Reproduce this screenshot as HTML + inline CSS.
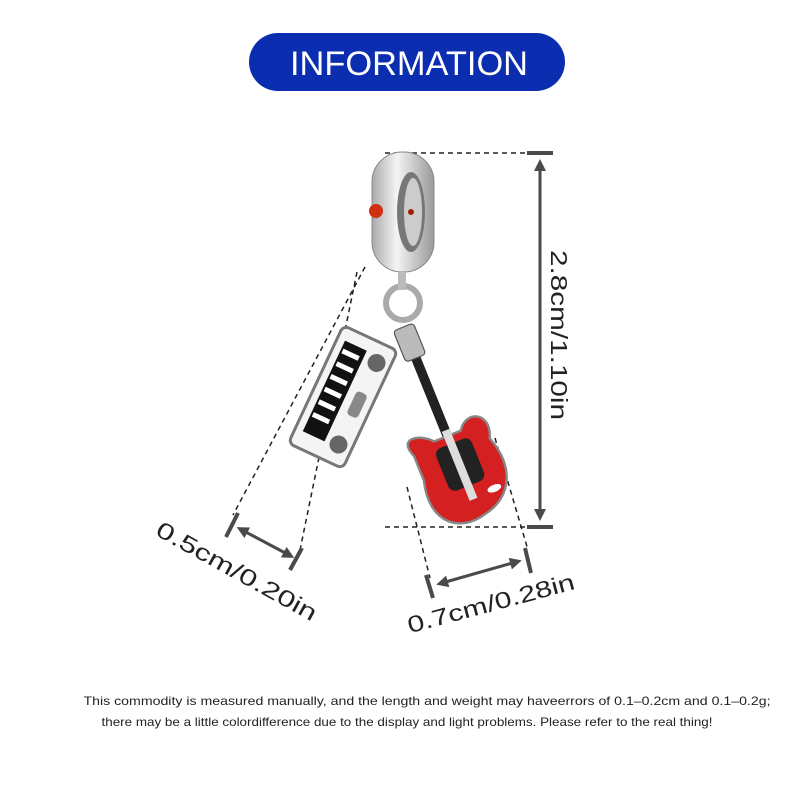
<!DOCTYPE html>
<html><head><style>
body{margin:0;width:800px;height:800px;background:#fff;overflow:hidden;font-family:"Liberation Sans",sans-serif}
</style></head><body>
<svg width="800" height="800" viewBox="0 0 800 800" xmlns="http://www.w3.org/2000/svg" style="position:absolute;left:0;top:0">
<defs>
<marker id="ah" markerWidth="4" markerHeight="4" refX="2" refY="2" orient="auto-start-reverse" markerUnits="strokeWidth"><path d="M0,0 L4,2 L0,4 z" fill="#4a4a4a"/></marker>
<linearGradient id="sil" x1="0" x2="1"><stop offset="0" stop-color="#aaa"/><stop offset=".4" stop-color="#f4f4f4"/><stop offset="1" stop-color="#999"/></linearGradient>
</defs>
<rect x="249" y="33" width="316" height="58" rx="29" fill="#0b2eb0"/>
<text x="409" y="75" text-anchor="middle" font-size="34" fill="#fff" textLength="238" lengthAdjust="spacingAndGlyphs">INFORMATION</text>
<g stroke="#222" stroke-width="1.5" stroke-dasharray="5,4" fill="none">
<line x1="385" y1="153" x2="525" y2="153"/><line x1="385" y1="527" x2="525" y2="527"/>
<line x1="365" y1="267" x2="233" y2="515"/><line x1="357" y1="272" x2="300" y2="550"/>
<line x1="407" y1="487" x2="430" y2="578"/><line x1="495" y1="438" x2="528" y2="550"/>
</g>
<!-- bail -->
<rect x="372" y="152" width="62" height="120" rx="30" fill="url(#sil)" stroke="#888"/>
<ellipse cx="411" cy="212" rx="14" ry="40" fill="#777"/><ellipse cx="413" cy="212" rx="9" ry="34" fill="#ccc"/>
<circle cx="376" cy="211" r="7" fill="#d03010"/><circle cx="411" cy="212" r="3" fill="#a02000"/>
<circle cx="403" cy="303" r="17" fill="none" stroke="#aaa" stroke-width="6"/>
<rect x="398" y="272" width="8" height="18" fill="#bbb"/>
<!-- keyboard -->
<g transform="translate(343,397) rotate(25)">
<rect x="-30" y="-65" width="60" height="130" rx="6" fill="#f4f4f4" stroke="#777" stroke-width="3"/>
<rect x="-22" y="-52" width="24" height="100" fill="#111"/>
<g fill="#fff"><rect x="-20" y="-44" width="18" height="5"/><rect x="-20" y="-30" width="18" height="5"/><rect x="-20" y="-16" width="18" height="5"/><rect x="-20" y="-2" width="18" height="5"/><rect x="-20" y="12" width="18" height="5"/><rect x="-20" y="26" width="18" height="5"/></g>
<circle cx="16" cy="-45" r="9" fill="#666"/><circle cx="16" cy="45" r="9" fill="#666"/>
<rect x="10" y="-12" width="12" height="26" rx="4" fill="#888"/>
</g>
<!-- guitar -->
<g transform="translate(455,455) rotate(-22) scale(1.2)">
<rect x="-4" y="-95" width="8" height="100" fill="#222"/>
<rect x="-9" y="-115" width="18" height="28" rx="3" fill="#bbb" stroke="#555"/>
<path d="M-32,-12 C-40,-32 -20,-27 -12,-17 L12,-17 C22,-32 42,-22 32,-2 C42,25 32,50 5,55 C-20,62 -42,45 -32,10 Z" fill="#d42020" stroke="#888" stroke-width="2"/>
<rect x="-15" y="-10" width="32" height="38" rx="6" fill="#222"/>
<rect x="-3" y="-22" width="7" height="62" fill="#ddd"/>
<ellipse cx="20" cy="38" rx="6" ry="3" fill="#fff"/>
</g>
<g stroke="#4a4a4a" stroke-width="4">
<line x1="527" y1="153" x2="553" y2="153"/><line x1="527" y1="527" x2="553" y2="527"/>
<line x1="540" y1="165" x2="540" y2="515" marker-start="url(#ah)" marker-end="url(#ah)" stroke-width="3"/>
<line x1="238" y1="513" x2="226" y2="537"/><line x1="302" y1="548" x2="290" y2="570"/>
<line x1="242" y1="530" x2="289" y2="555" marker-start="url(#ah)" marker-end="url(#ah)" stroke-width="3"/>
<line x1="426" y1="575" x2="433" y2="598"/><line x1="525" y1="548" x2="531" y2="573"/>
<line x1="442" y1="583" x2="516" y2="562" marker-start="url(#ah)" marker-end="url(#ah)" stroke-width="3"/>
</g>
<text transform="translate(551,335) rotate(90)" text-anchor="middle" font-size="23" fill="#222" textLength="170" lengthAdjust="spacingAndGlyphs">2.8cm/1.10in</text>
<text transform="translate(233,578) rotate(29)" text-anchor="middle" font-size="23" fill="#222" textLength="180" lengthAdjust="spacingAndGlyphs">0.5cm/0.20in</text>
<text transform="translate(493,611) rotate(-15)" text-anchor="middle" font-size="23" fill="#222" textLength="172" lengthAdjust="spacingAndGlyphs">0.7cm/0.28in</text>
<text x="427" y="705" text-anchor="middle" font-size="12" fill="#222" textLength="687" lengthAdjust="spacingAndGlyphs">This commodity is measured manually, and the length and weight may haveerrors of 0.1–0.2cm and 0.1–0.2g;</text>
<text x="407" y="726" text-anchor="middle" font-size="12" fill="#222" textLength="611" lengthAdjust="spacingAndGlyphs">there may be a little colordifference due to the display and light problems. Please refer to the real thing!</text>
</svg>
</body></html>
